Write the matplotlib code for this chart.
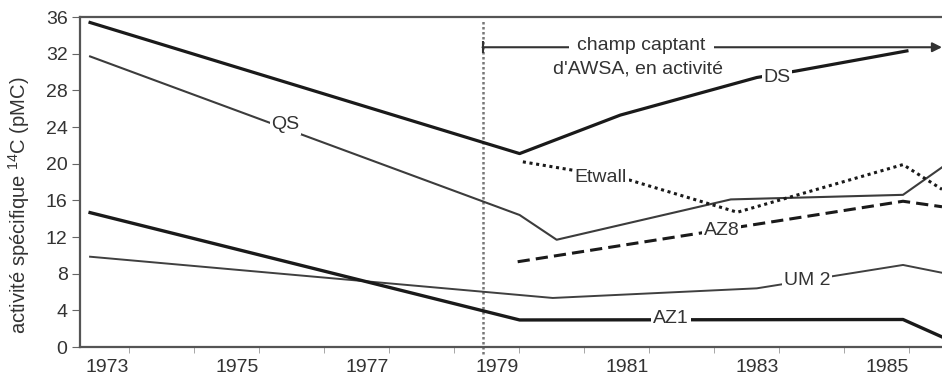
import matplotlib
matplotlib.use("Agg")
import matplotlib.pyplot as plt

plt.rcParams['font.family'] = ['Liberation Sans', 'DejaVu Sans']
plt.rcParams['mathtext.fontset'] = 'custom'
plt.rcParams['mathtext.rm'] = 'Liberation Sans'

# donnees (annee, pMC)
ds_years = [1972.74, 1979.35, 1980.9, 1983.0, 1983.6, 1985.31]
ds_vals = [35.4, 21.1, 25.3, 29.4, 30.1, 32.3]

qs_years = [1972.74, 1979.35, 1979.92, 1982.6, 1985.25, 1985.85]
qs_vals = [31.7, 14.4, 11.7, 16.1, 16.6, 19.6]

etwall_years = [1979.4, 1981.0, 1982.7, 1985.25, 1985.85]
etwall_vals = [20.2, 18.3, 14.7, 19.9, 17.2]

az8_years = [1979.32, 1985.25, 1985.85]
az8_vals = [9.3, 15.9, 15.3]

um2_years = [1972.74, 1979.86, 1983.0, 1985.25, 1985.85]
um2_vals = [9.85, 5.35, 6.4, 8.95, 8.1]

az1_years = [1972.74, 1979.35, 1985.25, 1985.85]
az1_vals = [14.66, 2.95, 3.0, 1.1]

# etiquettes des courbes
label_names = ['QS', 'DS', 'Etwall', 'AZ8', 'UM 2', 'AZ1']
label_x = [1975.75, 1983.31, 1980.6, 1982.46, 1983.78, 1981.68]
label_y = [24.3, 29.4, 18.5, 12.7, 7.3, 3.06]

year_labels = [1973, 1975, 1977, 1979, 1981, 1983, 1985]
y_ticks = list(range(0, 37, 4))
debut_awsa = 1978.78

txt = '#333333'
fs = 14
fig = plt.figure(figsize=(9.42, 3.85), dpi=100)
ax = fig.add_axes([80 / 942, 38 / 385, 862 / 942, 330 / 385])

ax.plot(ds_years, ds_vals, color='#1a1a1a', lw=2.3, zorder=3)
ax.plot(qs_years, qs_vals, color='#3c3c3c', lw=1.5, zorder=3)
ax.plot(etwall_years, etwall_vals, color='#1a1a1a', lw=2.2, ls=(0, (1, 1.2)), zorder=3)
ax.plot(az8_years, az8_vals, color='#1a1a1a', lw=2.2, ls=(0, (4, 2)), zorder=3)
ax.plot(um2_years, um2_vals, color='#404040', lw=1.4, zorder=3)
ax.plot(az1_years, az1_vals, color='#1a1a1a', lw=2.4, zorder=3)

for name, x, y in zip(label_names, label_x, label_y):
    ax.text(x, y, name, ha='center', va='center', fontsize=fs, color=txt, zorder=5,
            bbox=dict(facecolor='white', edgecolor='none', pad=1.2))

# debut du champ captant
ax.axvline(debut_awsa, ymin=-0.02, ymax=0.99, color='#777777', lw=1.8, ls=(0, (1, 1)),
           zorder=2, clip_on=False)
ax.annotate('', xy=(1985.85, 32.7), xytext=(debut_awsa, 32.7),
            arrowprops=dict(arrowstyle='-|>', color='#333333', lw=1.5, mutation_scale=14,
                            shrinkA=0, shrinkB=0), zorder=4, annotation_clip=False)
ax.plot([debut_awsa], [32.7], marker='|', ms=8, mew=1.5, color='#333333', zorder=4)
ax.text(1981.22, 32.9, 'champ captant', ha='center', va='center', fontsize=fs, color=txt,
        zorder=5, bbox=dict(facecolor='white', edgecolor='none', pad=6))
ax.text(1981.17, 30.3, "d'AWSA, en activité", ha='center', va='center', fontsize=fs,
        color=txt, zorder=5)

ax.set_xlim(1972.585, 1985.85)
ax.set_ylim(0, 36)
ax.set_yticks(y_ticks)
ax.set_xticks(year_labels)
ax.set_xticks([y + 0.34 for y in range(1973, 1986)], minor=True)
ax.tick_params(axis='x', which='major', length=0, pad=9, labelsize=fs, labelcolor=txt)
ax.tick_params(axis='x', which='minor', length=4, direction='out', color='#999999')
ax.tick_params(axis='y', length=6, direction='out', color='#666666', labelsize=fs,
               labelcolor=txt, pad=3)

for side in ['left', 'top', 'bottom']:
    ax.spines[side].set_color('#555555')
    ax.spines[side].set_linewidth(1.6)
ax.spines['right'].set_visible(False)

ax.set_ylabel('activité spécifique $^{14}$C (pMC)', fontsize=14.5, color=txt)
ax.yaxis.set_label_coords(-0.056, 0.43)

fig.savefig('out.png', dpi=100)
